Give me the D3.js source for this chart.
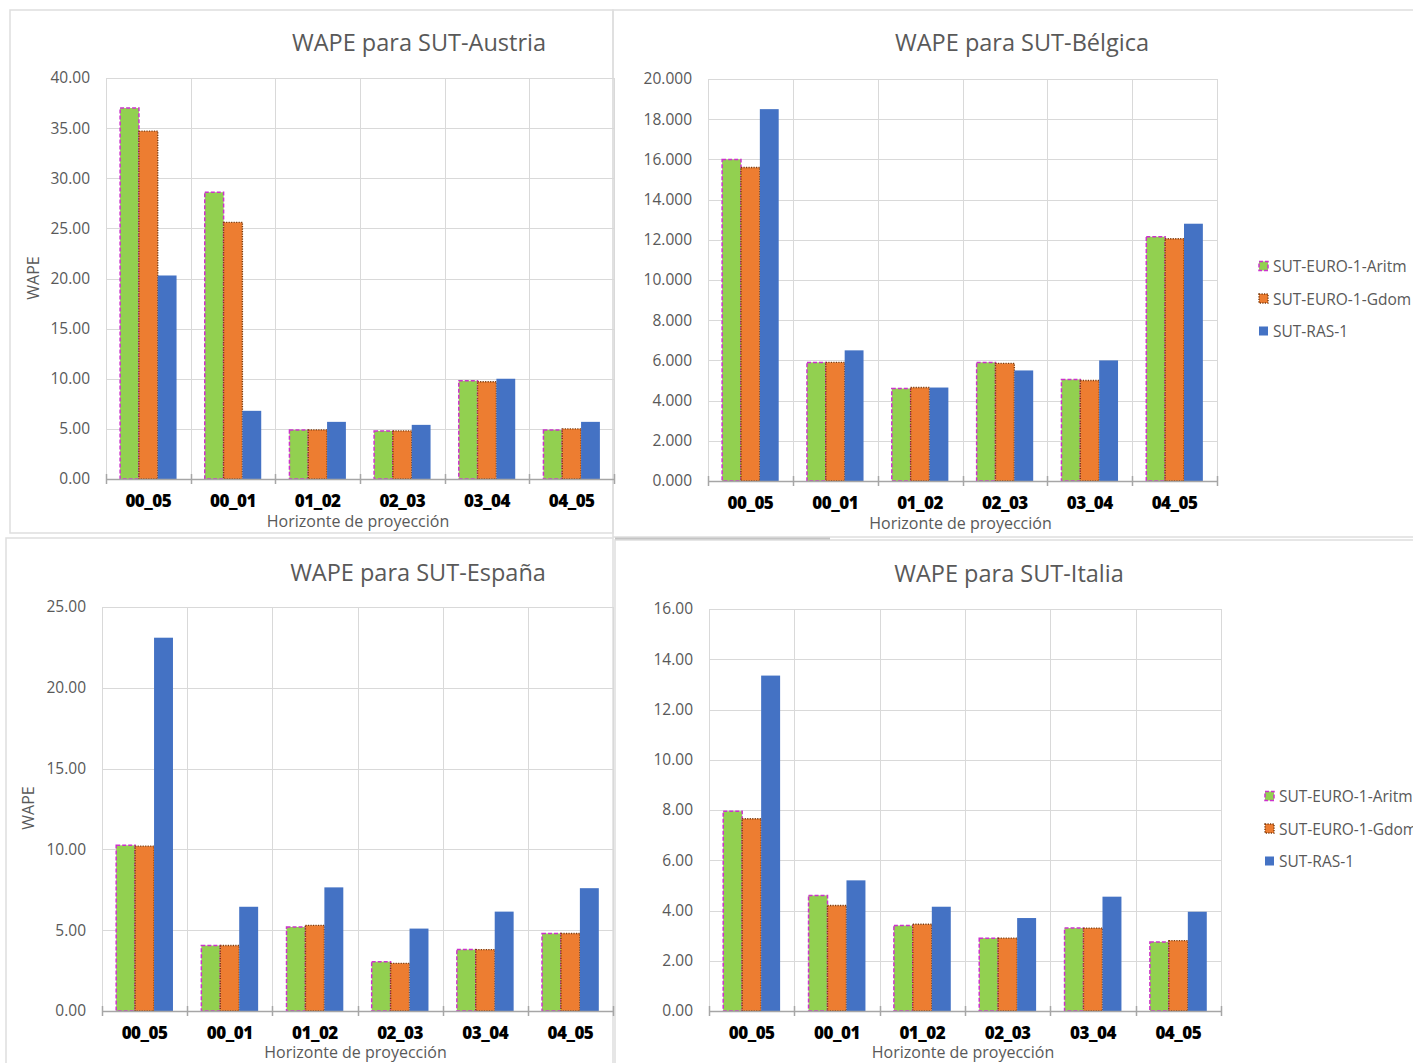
<!DOCTYPE html>
<html>
<head>
<meta charset="utf-8">
<script src="https://cdn.jsdelivr.net/npm/d3@7"></script>
<style>
  html, body { margin: 0; padding: 0; background: #fff; }
  svg { display: block; }
  text { font-family: "Open Sans", "Noto Sans", sans-serif; }
</style>
</head>
<body>
<svg id="chart" width="1413" height="1063"></svg>
<script>
// Forecast horizons on the x axis
const categories = ["00_05", "00_01", "01_02", "02_03", "03_04", "04_05"];
const seriesNames = ["SUT-EURO-1-Aritm", "SUT-EURO-1-Gdom", "SUT-RAS-1"];

// WAPE per horizon, Austria
const austriaAritm = [37.0, 28.6, 4.9, 4.8, 9.8, 4.9];
const austriaGdom  = [34.7, 25.6, 4.9, 4.8, 9.7, 5.0];
const austriaRas   = [20.3, 6.8, 5.7, 5.4, 10.0, 5.7];

// WAPE per horizon, Bélgica
const belgicaAritm = [16.0, 5.9, 4.6, 5.9, 5.05, 12.15];
const belgicaGdom  = [15.6, 5.9, 4.65, 5.85, 5.0, 12.05];
const belgicaRas   = [18.5, 6.5, 4.65, 5.5, 6.0, 12.8];

// WAPE per horizon, España
const espanaAritm = [10.25, 4.05, 5.2, 3.05, 3.8, 4.8];
const espanaGdom  = [10.2, 4.05, 5.3, 2.95, 3.8, 4.8];
const espanaRas   = [23.1, 6.45, 7.65, 5.1, 6.15, 7.6];

// WAPE per horizon, Italia
const italiaAritm = [7.95, 4.6, 3.4, 2.9, 3.3, 2.75];
const italiaGdom  = [7.65, 4.2, 3.45, 2.9, 3.3, 2.8];
const italiaRas   = [13.35, 5.2, 4.15, 3.7, 4.55, 3.95];

// Y axis tick values for each panel
const austriaTicks = [0, 5, 10, 15, 20, 25, 30, 35, 40];
const belgicaTicks = [0, 2, 4, 6, 8, 10, 12, 14, 16, 18, 20];
const espanaTicks  = [0, 5, 10, 15, 20, 25];
const italiaTicks  = [0, 2, 4, 6, 8, 10, 12, 14, 16];

const svg = d3.select("#chart");

// series styling: fill, outline colour, outline dash pattern
const seriesStyle = [
  { fill: "#92d050", stroke: "#cc33cc", dash: "4,2",     width: 1.5 },
  { fill: "#ed7d31", stroke: "#7b3a0c", dash: "1.2,1.3", width: 1.4 },
  { fill: "#4472c4", stroke: "none",    dash: null,      width: 0 }
];

// panel frames
const frames = [
  [10, 10, 603, 523],
  [613, 10, 810, 527],
  [6, 538, 607, 530],
  [615, 540, 808, 530]
];
svg.selectAll("rect.frame").data(frames).join("rect")
  .attr("class", "frame")
  .attr("x", d => d[0]).attr("y", d => d[1])
  .attr("width", d => d[2]).attr("height", d => d[3])
  .attr("fill", "none").attr("stroke", "#dedede").attr("stroke-width", 1.5);
svg.append("line").attr("x1", 615).attr("x2", 830).attr("y1", 538.5).attr("y2", 538.5)
  .attr("stroke", "#c4c4c4").attr("stroke-width", 2);

const panels = [
  { title: "WAPE para SUT-Austria", values: [austriaAritm, austriaGdom, austriaRas],
    ticks: austriaTicks, fmt: ".2f", left: 106, right: 614, top: 78, bottom: 479,
    titleX: 419, titleY: 42, yLabel: { x: 33, y: 278 }, xTitleY: 521, legend: null },
  { title: "WAPE para SUT-Bélgica", values: [belgicaAritm, belgicaGdom, belgicaRas],
    ticks: belgicaTicks, fmt: ".3f", left: 708, right: 1217, top: 79, bottom: 481,
    titleX: 1022, titleY: 42, yLabel: null, xTitleY: 523, legend: { x: 1258, y: 266 } },
  { title: "WAPE para SUT-España", values: [espanaAritm, espanaGdom, espanaRas],
    ticks: espanaTicks, fmt: ".2f", left: 102, right: 613, top: 607, bottom: 1011,
    titleX: 418, titleY: 572, yLabel: { x: 28, y: 808 }, xTitleY: 1052, legend: null },
  { title: "WAPE para SUT-Italia", values: [italiaAritm, italiaGdom, italiaRas],
    ticks: italiaTicks, fmt: ".2f", left: 709, right: 1221, top: 609, bottom: 1011,
    titleX: 1009, titleY: 573, yLabel: null, xTitleY: 1052, legend: { x: 1264, y: 796 } }
];

panels.forEach(p => {
  const g = svg.append("g");
  const x = d3.scaleBand().domain(categories).range([p.left, p.right]).padding(0);
  const xi = d3.scaleBand().domain(seriesNames).range([0, x.bandwidth()])
    .paddingInner(0).paddingOuter(0.75);
  const y = d3.scaleLinear().domain([0, d3.max(p.ticks)]).range([p.bottom, p.top]);

  // horizontal gridlines
  g.append("g").selectAll("line").data(p.ticks.slice(1)).join("line")
    .attr("x1", p.left).attr("x2", p.right)
    .attr("y1", d => Math.round(y(d)) + 0.5).attr("y2", d => Math.round(y(d)) + 0.5)
    .attr("stroke", "#d9d9d9").attr("stroke-width", 1);

  // vertical gridlines at category boundaries
  const bounds = categories.map(c => x(c)).concat([p.right]);
  g.append("g").selectAll("line").data(bounds).join("line")
    .attr("x1", d => Math.round(d) + 0.5).attr("x2", d => Math.round(d) + 0.5)
    .attr("y1", p.top).attr("y2", p.bottom)
    .attr("stroke", "#d9d9d9").attr("stroke-width", 1);

  // y axis tick labels
  const yAxis = d3.axisLeft(y).tickValues(p.ticks).tickFormat(d3.format(p.fmt))
    .tickSize(0).tickPadding(16);
  const ya = g.append("g").attr("transform", `translate(${p.left},0)`).call(yAxis);
  ya.select(".domain").remove();
  ya.selectAll("text").attr("fill", "#595959").style("font-size", "15.5px")
    .style("font-family", "'Open Sans', sans-serif");

  // bars
  seriesNames.forEach((s, si) => {
    const st = seriesStyle[si];
    g.append("g").selectAll("rect").data(categories).join("rect")
      .attr("x", c => x(c) + xi(s))
      .attr("y", (c, i) => y(p.values[si][i]))
      .attr("width", xi.bandwidth())
      .attr("height", (c, i) => p.bottom - y(p.values[si][i]))
      .attr("fill", st.fill)
      .attr("stroke", st.stroke)
      .attr("stroke-width", st.width)
      .attr("stroke-dasharray", st.dash);
  });

  // x axis line with boundary ticks
  const xa = g.append("g");
  xa.append("line").attr("x1", p.left).attr("x2", p.right)
    .attr("y1", p.bottom + 0.5).attr("y2", p.bottom + 0.5)
    .attr("stroke", "#a6a6a6").attr("stroke-width", 1.5);
  xa.selectAll("line.tk").data(bounds).join("line").attr("class", "tk")
    .attr("x1", d => Math.round(d) + 0.5).attr("x2", d => Math.round(d) + 0.5)
    .attr("y1", p.bottom - 5).attr("y2", p.bottom + 5)
    .attr("stroke", "#a6a6a6").attr("stroke-width", 1.5);

  // category labels
  g.append("g").selectAll("text").data(categories).join("text")
    .attr("x", c => x(c) + x.bandwidth() / 2)
    .attr("y", p.bottom + 21)
    .attr("text-anchor", "middle").attr("dominant-baseline", "central")
    .style("font-size", "17px").style("font-weight", "800")
    .style("letter-spacing", "-0.5px")
    .attr("fill", "#000").text(c => c);

  // axis title
  g.append("text").attr("x", (p.left + p.right) / 2 - 2).attr("y", p.xTitleY)
    .attr("text-anchor", "middle").attr("dominant-baseline", "central")
    .style("font-size", "16px").attr("fill", "#595959").text("Horizonte de proyección");

  // chart title
  g.append("text").attr("x", p.titleX).attr("y", p.titleY)
    .attr("text-anchor", "middle").attr("dominant-baseline", "central")
    .style("font-size", "23.5px").attr("fill", "#595959").text(p.title);

  if (p.yLabel) {
    g.append("text")
      .attr("transform", `translate(${p.yLabel.x},${p.yLabel.y}) rotate(-90)`)
      .attr("text-anchor", "middle").attr("dominant-baseline", "central")
      .style("font-size", "16px").attr("fill", "#595959").text("WAPE");
  }

  if (p.legend) {
    const lg = g.append("g").attr("transform", `translate(${p.legend.x},${p.legend.y})`);
    seriesNames.forEach((s, si) => {
      const st = seriesStyle[si];
      const row = lg.append("g").attr("transform", `translate(0,${si * 32.5})`);
      row.append("rect").attr("x", 1).attr("y", -4.5).attr("width", 9).attr("height", 9)
        .attr("fill", st.fill).attr("stroke", st.stroke)
        .attr("stroke-width", st.width).attr("stroke-dasharray", st.dash);
      row.append("text").attr("x", 15).attr("y", 0).attr("dominant-baseline", "central")
        .style("font-size", "15.5px").attr("fill", "#595959").text(s);
    });
  }
});
</script>
</body>
</html>
